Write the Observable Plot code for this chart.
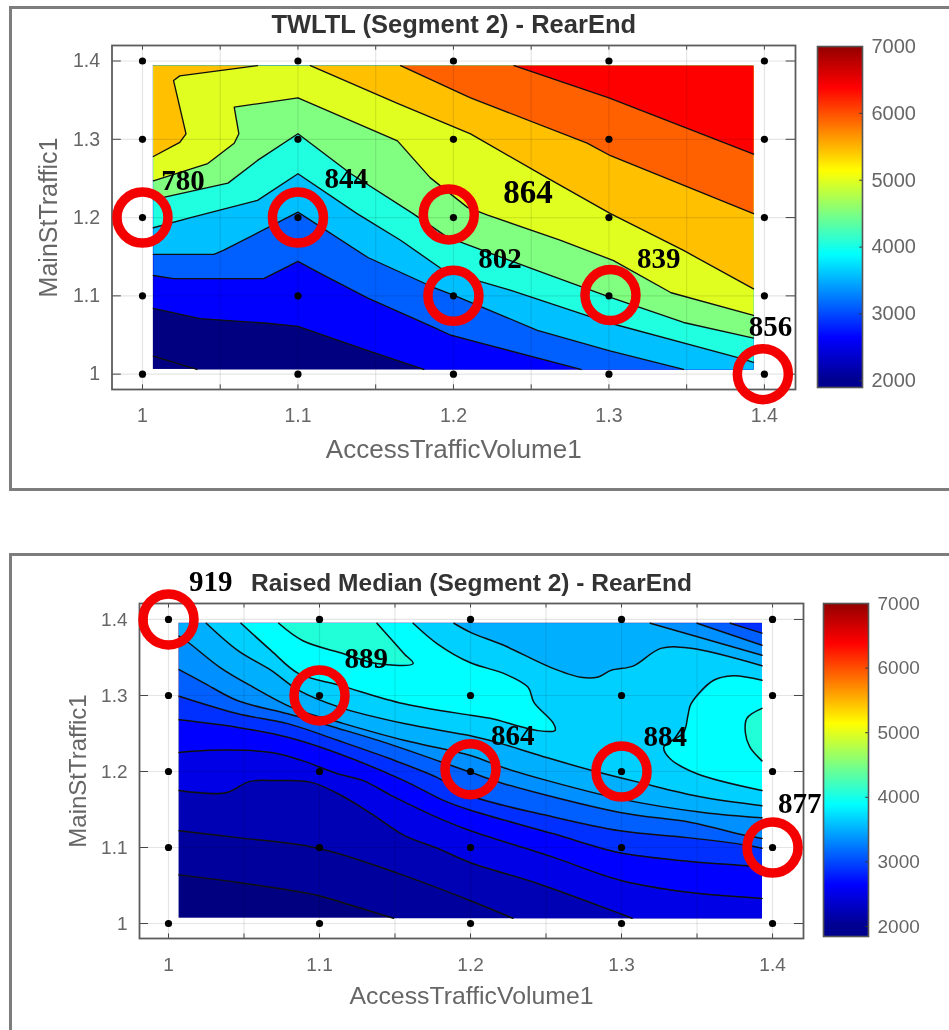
<!DOCTYPE html>
<html><head><meta charset="utf-8">
<script src="https://cdn.jsdelivr.net/npm/d3@7"></script>
<script src="https://cdn.jsdelivr.net/npm/@observablehq/plot@0.6"></script>
<style>
html,body{margin:0;padding:0;background:#fff;width:949px;height:1030px;overflow:hidden}
.panel{position:absolute;left:9px;right:-10px;border:3px solid #7d7d7d;box-sizing:border-box}
.holder{position:absolute;left:0;filter:blur(.45px)}
.holder svg{overflow:visible;background:transparent;display:block}
</style></head><body>
<div class="panel" style="top:6px;height:485px"></div>
<div class="panel" style="top:553px;height:520px"></div>
<div class="holder" style="top:0" id="a"></div>
<div class="holder" style="top:510px" id="b"></div>
<div class="holder" style="left:800px;top:0" id="ac"></div>
<div class="holder" style="left:800px;top:510px" id="bc"></div>
<script>
const xTicks=[1,1.05,1.1,1.15,1.2,1.25,1.3,1.35,1.4];
const labelTicks=[1,1.1,1.2,1.3,1.4];
const barTicks=[2000,3000,4000,5000,6000,7000];
const jetDomain=[2000,2625,3875,5125,6375,7000];
const jetRange=["#000090","#0000ff","#00ffff","#ffff00","#ff0000","#900000"];
const xName="AccessTrafficVolume1", yName="MainStTraffic1";

/* TWLTL: contour levels, [AccessTrafficVolume1, MainStTraffic1] */
const aLevels=[1500,2000,2500,3000,3500,4000,4500,5000,5500,6000,6500];
const aColors=["#000080","#000080","#0000ff","#0060ff","#00c0ff","#20ffe0","#80ff80","#e0ff20","#ffc000","#ff6000","#ff0000"];
const aBR=[1.393,1.006],aTR=[1.393,1.394],aTL=[1.007,1.394];
const a2000=[[1.007,1.023],[1.035,1.006]];
const a2500=[[1.007,1.084],[1.037,1.071],[1.080,1.065],[1.100,1.061],[1.145,1.030],[1.181,1.006]];
const a3000=[[1.007,1.126],[1.020,1.122],[1.078,1.122],[1.100,1.144],[1.114,1.129],[1.145,1.097],[1.187,1.060],[1.198,1.050],[1.217,1.040],[1.282,1.006]];
const a3500=[[1.007,1.153],[1.046,1.153],[1.052,1.158],[1.100,1.207],[1.145,1.149],[1.187,1.111],[1.200,1.101],[1.254,1.056],[1.300,1.030],[1.348,1.006]];
const a4000=[[1.007,1.187],[1.031,1.200],[1.074,1.222],[1.100,1.256],[1.138,1.205],[1.166,1.171],[1.192,1.135],[1.211,1.122],[1.237,1.107],[1.301,1.065],[1.383,1.021],[1.393,1.015]];
const a4500=[[1.007,1.223],[1.055,1.244],[1.074,1.273],[1.100,1.307],[1.134,1.256],[1.174,1.205],[1.196,1.175],[1.250,1.135],[1.301,1.098],[1.348,1.066],[1.393,1.046]];
const a5000=[[1.007,1.247],[1.042,1.269],[1.059,1.295],[1.062,1.307],[1.059,1.341],[1.100,1.353],[1.164,1.298],[1.185,1.251],[1.209,1.213],[1.222,1.203],[1.269,1.171],[1.303,1.145],[1.340,1.104],[1.393,1.075]];
const a5500left=[[1.007,1.278],[1.024,1.296],[1.028,1.307],[1.020,1.375],[1.024,1.381],[1.074,1.394]];
const a5500right=[[1.108,1.394],[1.164,1.346],[1.211,1.307],[1.260,1.251],[1.301,1.205],[1.348,1.158],[1.393,1.109]];
const a6000=[[1.166,1.394],[1.211,1.353],[1.286,1.295],[1.301,1.279],[1.393,1.205]];
const a6500=[[1.239,1.394],[1.300,1.353],[1.393,1.281]];
const aBands=[
 {level:2000,lines:[a2000],close:[aBR,aTR,aTL]},
 {level:2500,lines:[a2500],close:[aBR,aTR,aTL]},
 {level:3000,lines:[a3000],close:[aBR,aTR,aTL]},
 {level:3500,lines:[a3500],close:[aBR,aTR,aTL]},
 {level:4000,lines:[a4000],close:[aTR,aTL]},
 {level:4500,lines:[a4500],close:[aTR,aTL]},
 {level:5000,lines:[a5000],close:[aTR,aTL]},
 {level:5500,lines:[a5500left],close:[aTL]},
 {level:5500,lines:[a5500right],close:[aTR]},
 {level:6000,lines:[a6000],close:[aTR]},
 {level:6500,lines:[a6500],close:[aTR]}
];
const aMarked=[[1,1.2],[1.1,1.2],[1.197,1.204],[1.2,1.1],[1.301,1.101],[1.399,1]];
const aNotes=[[1.026,1.247,"780"],[1.131,1.250,"844"],[1.230,1.148,"802"],[1.332,1.148,"839"],[1.404,1.060,"856"]];
const aBigNotes=[[1.248,1.232,"864"]];

/* Raised Median */
const bLevels=[1800,2000,2200,2400,2600,2800,3000,3200,3400,3600,3800,4000];
const bColors=["#000080","#00009c","#0000b4","#0000e6","#0000ff","#0030ff","#0060ff","#0090ff","#00b0ff","#00d0ff","#00ffff","#20ffd8"];
const bBR=[1.393,1.007],bTR=[1.393,1.395],bTL=[1.007,1.395];
const b2000=[[1.007,1.064],[1.046,1.054],[1.099,1.037],[1.121,1.024],[1.149,1.007]];
const b2200=[[1.007,1.122],[1.046,1.113],[1.099,1.099],[1.152,1.066],[1.200,1.030],[1.228,1.007]];
const b2400=[[1.007,1.175],[1.038,1.172],[1.054,1.187],[1.072,1.188],[1.094,1.186],[1.112,1.171],[1.134,1.145],[1.156,1.116],[1.178,1.099],[1.200,1.080],[1.244,1.053],[1.299,1.013],[1.307,1.007]];
const b2600=[[1.007,1.225],[1.028,1.228],[1.068,1.225],[1.089,1.214],[1.112,1.197],[1.129,1.188],[1.148,1.168],[1.182,1.136],[1.200,1.122],[1.255,1.087],[1.299,1.057],[1.344,1.041],[1.393,1.033]];
const b2800=[[1.007,1.268],[1.046,1.258],[1.079,1.245],[1.112,1.224],[1.156,1.188],[1.182,1.162],[1.200,1.149],[1.255,1.118],[1.299,1.093],[1.344,1.082],[1.383,1.076],[1.393,1.074]];
const b3000=[[1.007,1.299],[1.046,1.276],[1.079,1.263],[1.112,1.241],[1.145,1.218],[1.178,1.192],[1.200,1.168],[1.251,1.142],[1.299,1.122],[1.344,1.113],[1.383,1.103],[1.393,1.099]];
const b3000top=[[1.393,1.382],[1.372,1.395]];
const b3200=[[1.007,1.334],[1.023,1.317],[1.046,1.293],[1.079,1.276],[1.112,1.257],[1.145,1.237],[1.200,1.199],[1.222,1.184],[1.299,1.146],[1.346,1.133],[1.382,1.116],[1.393,1.112]];
const b3200top=[[1.393,1.366],[1.350,1.395]];
const b3400=[[1.007,1.378],[1.013,1.370],[1.034,1.337],[1.056,1.311],[1.083,1.283],[1.116,1.263],[1.156,1.241],[1.200,1.221],[1.222,1.205],[1.251,1.188],[1.299,1.164],[1.354,1.146],[1.393,1.139]];
const b3400top=[[1.393,1.353],[1.319,1.395]];
const b3600=[[1.025,1.395],[1.046,1.359],[1.068,1.333],[1.086,1.307],[1.114,1.284],[1.156,1.263],[1.200,1.247],[1.218,1.238],[1.251,1.218],[1.281,1.201],[1.311,1.186],[1.354,1.166],[1.393,1.155]];
const b3600top=[[1.393,1.339],[1.346,1.362],[1.326,1.362],[1.308,1.339],[1.293,1.333],[1.284,1.324],[1.273,1.324],[1.253,1.337],[1.222,1.366],[1.200,1.383],[1.189,1.395]];
const b3800=[[1.048,1.395],[1.068,1.359],[1.086,1.329],[1.114,1.313],[1.156,1.289],[1.200,1.274],[1.213,1.270],[1.244,1.254],[1.256,1.254],[1.255,1.263],[1.242,1.291],[1.238,1.311],[1.222,1.329],[1.200,1.343],[1.178,1.368],[1.162,1.395]];
const b3800right=[[1.393,1.320],[1.374,1.326],[1.361,1.320],[1.346,1.289],[1.344,1.274],[1.341,1.251],[1.328,1.232],[1.332,1.217],[1.350,1.197],[1.393,1.175]];
const b4000=[[1.073,1.395],[1.089,1.372],[1.116,1.355],[1.138,1.342],[1.162,1.342],[1.156,1.355],[1.138,1.395]];
const b4000right=[[1.393,1.283],[1.383,1.270],[1.382,1.251],[1.385,1.232],[1.393,1.214]];
const bBands=[
 {level:2000,lines:[b2000],close:[bBR,bTR,bTL]},
 {level:2200,lines:[b2200],close:[bBR,bTR,bTL]},
 {level:2400,lines:[b2400],close:[bBR,bTR,bTL]},
 {level:2600,lines:[b2600],close:[bTR,bTL]},
 {level:2800,lines:[b2800],close:[bTR,bTL]},
 {level:3000,lines:[b3000,b3000top],close:[bTL]},
 {level:3200,lines:[b3200,b3200top],close:[bTL]},
 {level:3400,lines:[b3400,b3400top],close:[bTL]},
 {level:3600,lines:[b3600,b3600top],close:[]},
 {level:3800,lines:[b3800],close:[]},
 {level:3800,lines:[b3800right],close:[]},
 {level:4000,lines:[b4000],close:[]},
 {level:4000,lines:[b4000right],close:[]}
];
const bMarked=[[1,1.4],[1.1,1.3],[1.2,1.203],[1.3,1.2],[1.4,1.1]];
const bNotes=[[1.028,1.449,"919"],[1.131,1.349,"889"],[1.228,1.247,"864"],[1.329,1.246,"884"],[1.418,1.157,"877"]];

const sans="Liberation Sans, Arial, sans-serif", serif="Liberation Serif, Times New Roman, serif";
const px=d=>d[0], py=d=>d[1];

function panel(o){
  const [x0,x1]=o.xDomain,[y0,y1]=o.yDomain;
  const fillRect=[{x1:o.bl[0],x2:o.tr[0],y1:o.bl[1],y2:o.tr[1]}];
  const gridPts=d3.cross(labelTicks,labelTicks);
  const rings=o.bands.map(b=>Plot.line(b.lines.flat().concat(b.close),{x:px,y:py,fill:()=>b.level,stroke:"none"}));
  const lines=o.bands.flatMap(b=>b.lines.map(l=>Plot.line(l,{x:px,y:py,stroke:"#101010",strokeWidth:o.lineWidth,curve:o.curve})));
  return Plot.plot({
    width:949,height:o.height,marginLeft:o.ml,marginRight:o.mr,marginTop:o.mt,marginBottom:o.mb,
    x:{domain:o.xDomain,axis:null},y:{domain:o.yDomain,axis:null},
    color:{type:"ordinal",domain:o.levels,range:o.colors},
    style:{fontFamily:sans,background:"transparent"},
    marks:[
      Plot.rect(fillRect,{x1:"x1",x2:"x2",y1:"y1",y2:"y2",fill:()=>o.levels[0]}),
      ...rings,
      ...lines,
      Plot.ruleX(xTicks,{stroke:"#000",strokeOpacity:.1,strokeWidth:1.2}),
      Plot.ruleY(labelTicks,{stroke:"#000",strokeOpacity:.1,strokeWidth:1.2}),
      Plot.ruleX(xTicks,{y1:y0,y2:y0+.006,stroke:"#444"}),
      Plot.ruleX(xTicks,{y1:y1,y2:y1-.006,stroke:"#444"}),
      Plot.ruleY(labelTicks,{x1:x0,x2:x0+.006,stroke:"#444"}),
      Plot.ruleY(labelTicks,{x1:x1,x2:x1-.006,stroke:"#444"}),
      Plot.frame({stroke:"#5c5c5c",strokeWidth:1.8}),
      Plot.axisX(labelTicks,{anchor:"bottom",tickSize:0,tickPadding:o.xPad,tickFormat:d=>String(d),label:null,fontSize:o.tickFont,color:"#666",fill:"#666"}),
      Plot.axisY(labelTicks,{anchor:"left",tickSize:0,tickPadding:o.yPad,tickFormat:d=>String(d),label:null,fontSize:o.tickFont,color:"#666",fill:"#666"}),
      Plot.text([o.title],{frameAnchor:"top",dy:o.titleDy,text:d=>d,fontSize:o.titleFont,fontWeight:"bold",fill:"#333"}),
      Plot.text([xName],{frameAnchor:"bottom",dy:o.xLabelDy,text:d=>d,fontSize:o.labelFont,fill:"#666"}),
      Plot.text([yName],{frameAnchor:"left",dx:o.yLabelDx,rotate:-90,textAnchor:"middle",text:d=>d,fontSize:o.yLabelFont,fill:"#666"}),
      Plot.dot(gridPts,{x:px,y:py,r:3.6,fill:"#000"}),
      Plot.dot(o.marked,{x:px,y:py,r:25.5,stroke:"#f50000",strokeWidth:9.5,fill:"none"}),
      Plot.text(o.notes,{x:px,y:py,text:d=>d[2],fontFamily:serif,fontWeight:"bold",fontSize:29,fill:"#000"}),
      ...(o.bigNotes?[Plot.text(o.bigNotes,{x:px,y:py,text:d=>d[2],fontFamily:serif,fontWeight:"bold",fontSize:33,fill:"#000"})]:[])
    ]
  });
}
function colorbar(o){
  const stepsBar=d3.range(o.low,7000,20);
  return Plot.plot({
    width:149,height:o.height,marginLeft:o.ml,marginRight:149-o.ml-o.w,marginTop:o.mt,marginBottom:o.mb,
    x:{domain:[0,1],axis:null},y:{domain:[o.low,7000],axis:null},
    color:{type:"linear",domain:jetDomain,range:jetRange,clamp:true},
    style:{fontFamily:sans,background:"transparent"},
    marks:[
      Plot.rect(stepsBar,{x1:0,x2:1,y1:d=>d,y2:d=>Math.min(d+50,7000),fill:d=>d}),
      Plot.ruleY(barTicks,{x1:.94,x2:1,stroke:"#333"}),
      Plot.frame({stroke:"#555",strokeWidth:1.6}),
      Plot.axisY(barTicks,{anchor:"right",tickSize:0,tickPadding:o.pad,tickFormat:d=>String(d),label:null,fontSize:o.font,fill:"#666"})
    ]
  });
}
document.getElementById("a").append(panel({
  title:"TWLTL (Segment 2) - RearEnd",height:490,ml:111.5,mr:154,mt:45,mb:101,
  xDomain:[.9804,1.42],yDomain:[.9804,1.4198],levels:aLevels,colors:aColors,bands:aBands,
  bl:[1.007,1.006],tr:[1.393,1.394],marked:aMarked,notes:aNotes,bigNotes:aBigNotes,curve:"linear",lineWidth:1.35,
  xPad:19,yPad:12,tickFont:19.5,titleFont:25.5,titleDy:-31,xLabelDy:68,yLabelDx:-63,labelFont:26,yLabelFont:25
}));
document.getElementById("b").append(panel({
  title:"Raised Median (Segment 2) - RearEnd",height:520,ml:139,mr:146,mt:93,mb:92,
  xDomain:[.9808,1.4205],yDomain:[.9803,1.421],levels:bLevels,colors:bColors,bands:bBands,
  bl:[1.007,1.007],tr:[1.393,1.395],marked:bMarked,notes:bNotes,curve:"catmull-rom",lineWidth:1.5,
  xPad:19,yPad:12,tickFont:19,titleFont:24.5,titleDy:-30,xLabelDy:65,yLabelDx:-61,labelFont:24.8,yLabelFont:24
}));
document.getElementById("ac").append(colorbar({height:490,ml:17,w:45,mt:46,mb:103,low:1900,pad:9,font:20}));
document.getElementById("bc").append(colorbar({height:520,ml:23,w:45,mt:93,mb:94,low:1845,pad:9,font:19}));
</script></body></html>
